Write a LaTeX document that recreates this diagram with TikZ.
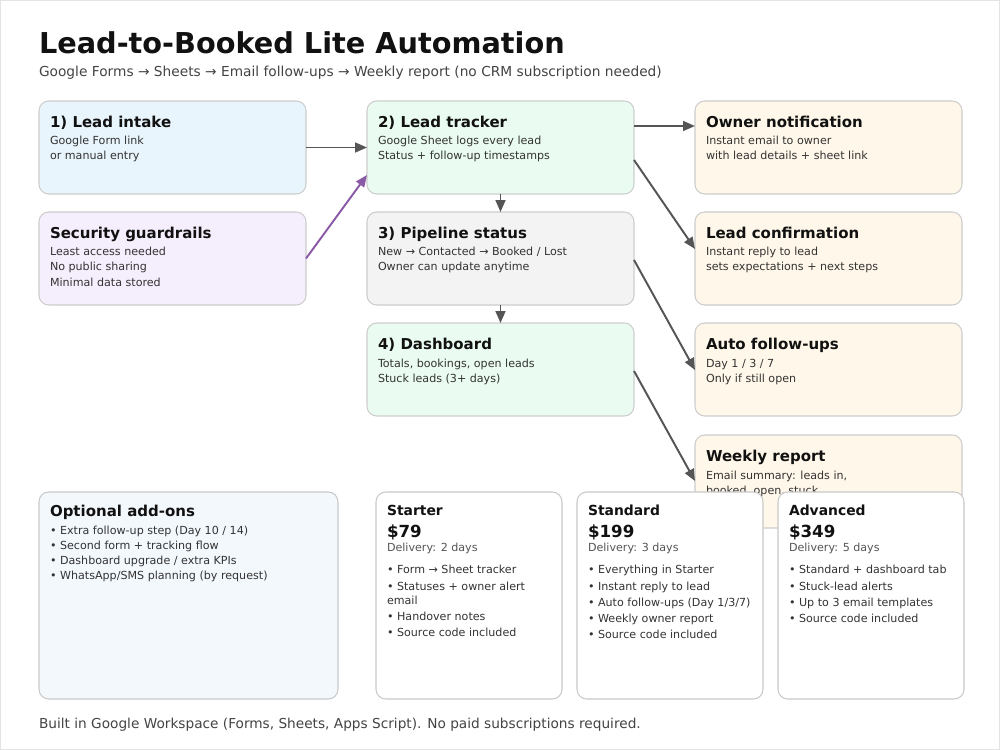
\documentclass[tikz,border=0pt]{standalone}
\usepackage{fontspec}
\setmainfont{DejaVu Sans}
\usetikzlibrary{calc,arrows.meta}
\definecolor{pagebord}{HTML}{E4E4E4}
\definecolor{bordc}{HTML}{CDCDCD}
\definecolor{cardbord}{HTML}{C9C9C9}
\definecolor{titlec}{HTML}{111111}
\definecolor{subc}{HTML}{444444}
\definecolor{bodyc}{HTML}{333333}
\definecolor{delc}{HTML}{555555}
\definecolor{arrc}{HTML}{555555}
\definecolor{purpc}{HTML}{8A5AA6}
\definecolor{blueF}{HTML}{E9F5FD}
\definecolor{purpF}{HTML}{F5EEFC}
\definecolor{greenF}{HTML}{EAFBF1}
\definecolor{grayF}{HTML}{F3F3F3}
\definecolor{creamF}{HTML}{FFF7E9}
\definecolor{addF}{HTML}{F3F8FD}
\begin{document}
\begin{tikzpicture}[x=0.72pt,y=-0.72pt,
  flowbox/.style={draw=bordc, line width=0.75pt, rounded corners=7pt, minimum width=192.24pt, minimum height=66.96pt, inner sep=0pt, outer sep=0pt, anchor=north west},
  cardbox/.style={draw=cardbord, line width=0.75pt, rounded corners=7pt, minimum width=133.92pt, minimum height=149.04pt, inner sep=0pt, outer sep=0pt, anchor=north west, fill=white},
  txt/.style={anchor=base west, inner sep=0pt, outer sep=0pt},
  btitle/.style={txt, font=\fontsize{10.8}{13}\selectfont\bfseries, text=titlec},
  bbody/.style={txt, font=\fontsize{8}{10}\selectfont, text=bodyc},
  ctitle/.style={txt, font=\fontsize{10}{12}\selectfont\bfseries, text=titlec},
  cprice/.style={txt, font=\fontsize{12}{14}\selectfont\bfseries, text=titlec},
  cdel/.style={txt, font=\fontsize{8}{10}\selectfont, text=delc},
  arr/.style={draw=arrc, line width=1.4pt, -{Triangle[length=8.5pt,width=7pt]}},
  parr/.style={draw=purpc, line width=1.4pt, -{Triangle[length=8.5pt,width=7pt]}}
]
\useasboundingbox (0,0) rectangle (1000,750);
\fill[white] (0,0) rectangle (1000,750);
\draw[pagebord, line width=0.75pt] (0.5,0.5) rectangle (999.5,749.5);

% title
\node[txt, font=\fontsize{20.7}{24}\selectfont\bfseries, text=titlec] (title) at (39,53.5) {Lead-to-Booked Lite Automation};
\node[txt, font=\fontsize{9.9}{12}\selectfont, text=subc] (subtitle) at (39,76.5) {Google Forms → Sheets → Email follow-ups → Weekly report (no CRM subscription needed)};

% left column
\node[flowbox, fill=blueF] (intake) at (39,101) {};
\node[btitle] (intakeT) at ($(intake.north west)+(11,26.5)$) {1) Lead intake};
\node[bbody] (intakeA) at ($(intake.north west)+(11,44)$) {Google Form link};
\node[bbody] (intakeB) at ($(intake.north west)+(11,59)$) {or manual entry};

\node[flowbox, fill=purpF] (sec) at (39,212) {};
\node[btitle] (secT) at ($(sec.north west)+(11,26.5)$) {Security guardrails};
\node[bbody] (secA) at ($(sec.north west)+(11,44)$) {Least access needed};
\node[bbody] (secB) at ($(sec.north west)+(11,59)$) {No public sharing};
\node[bbody] (secC) at ($(sec.north west)+(11,74)$) {Minimal data stored};

% middle column
\node[flowbox, fill=greenF] (tracker) at (367,101) {};
\node[btitle] (trackerT) at ($(tracker.north west)+(11,26.5)$) {2) Lead tracker};
\node[bbody] (trackerA) at ($(tracker.north west)+(11,44)$) {Google Sheet logs every lead};
\node[bbody] (trackerB) at ($(tracker.north west)+(11,59)$) {Status + follow-up timestamps};

\node[flowbox, fill=grayF] (pipe) at (367,212) {};
\node[btitle] (pipeT) at ($(pipe.north west)+(11,26.5)$) {3) Pipeline status};
\node[bbody] (pipeA) at ($(pipe.north west)+(11,44)$) {New → Contacted → Booked / Lost};
\node[bbody] (pipeB) at ($(pipe.north west)+(11,59)$) {Owner can update anytime};

\node[flowbox, fill=greenF] (dash) at (367,323) {};
\node[btitle] (dashT) at ($(dash.north west)+(11,26.5)$) {4) Dashboard};
\node[bbody] (dashA) at ($(dash.north west)+(11,44)$) {Totals, bookings, open leads};
\node[bbody] (dashB) at ($(dash.north west)+(11,59)$) {Stuck leads (3+ days)};

% right column
\node[flowbox, fill=creamF] (owner) at (695,101) {};
\node[btitle] (ownerT) at ($(owner.north west)+(11,26.5)$) {Owner notification};
\node[bbody] (ownerA) at ($(owner.north west)+(11,44)$) {Instant email to owner};
\node[bbody] (ownerB) at ($(owner.north west)+(11,59)$) {with lead details + sheet link};

\node[flowbox, fill=creamF] (conf) at (695,212) {};
\node[btitle] (confT) at ($(conf.north west)+(11,26.5)$) {Lead confirmation};
\node[bbody] (confA) at ($(conf.north west)+(11,44)$) {Instant reply to lead};
\node[bbody] (confB) at ($(conf.north west)+(11,59)$) {sets expectations + next steps};

\node[flowbox, fill=creamF] (auto) at (695,323) {};
\node[btitle] (autoT) at ($(auto.north west)+(11,26.5)$) {Auto follow-ups};
\node[bbody] (autoA) at ($(auto.north west)+(11,44)$) {Day 1 / 3 / 7};
\node[bbody] (autoB) at ($(auto.north west)+(11,59)$) {Only if still open};

\node[flowbox, fill=creamF] (week) at (695,435) {};
\node[btitle] (weekT) at ($(week.north west)+(11,26.5)$) {Weekly report};
\node[bbody] (weekA) at ($(week.north west)+(11,44)$) {Email summary: leads in,};
\node[bbody] (weekB) at ($(week.north west)+(11,59)$) {booked, open, stuck};

% connectors
\draw[arr] (intake.east) -- (tracker.west);
\draw[parr] (sec.east) -- ($(tracker.west)+(0,27.5)$);
\draw[arr] (tracker.south) -- (pipe.north);
\draw[arr] (pipe.south) -- (dash.north);
\draw[arr] ($(tracker.east)+(0,-21.5)$) -- ($(owner.west)+(0,-21.5)$);
\draw[arr] ($(tracker.east)+(0,12.5)$) -- ($(conf.west)+(0,-9.5)$);
\draw[arr] ($(pipe.east)+(0,1.5)$) -- ($(auto.west)+(0,0.5)$);
\draw[arr] ($(dash.east)+(0,1.5)$) -- ($(week.west)+(0,-0.5)$);

% add-ons
\node[cardbox, fill=addF, minimum width=215.28pt] (addons) at (39,492) {};
\node[btitle] (addT) at ($(addons.north west)+(11,24)$) {Optional add-ons};
\node[bbody] (addA) at ($(addons.north west)+(11,42)$) {• Extra follow-up step (Day 10 / 14)};
\node[bbody] (addB) at ($(addons.north west)+(11,57)$) {• Second form + tracking flow};
\node[bbody] (addC) at ($(addons.north west)+(11,72)$) {• Dashboard upgrade / extra KPIs};
\node[bbody] (addD) at ($(addons.north west)+(11,87)$) {• WhatsApp/SMS planning (by request)};

% pricing cards
\node[cardbox] (starter) at (376,492) {};
\node[ctitle] (starterT) at ($(starter.north west)+(11,23)$) {Starter};
\node[cprice] (starterP) at ($(starter.north west)+(11,45)$) {\$79};
\node[cdel] (starterD) at ($(starter.north west)+(11,59)$) {Delivery: 2 days};
\node[bbody] (starterA) at ($(starter.north west)+(11,81)$) {• Form → Sheet tracker};
\node[bbody] (starterB) at ($(starter.north west)+(11,98)$) {• Statuses + owner alert};
\node[bbody] (starterB2) at ($(starter.north west)+(11,112)$) {email};
\node[bbody] (starterC) at ($(starter.north west)+(11,128)$) {• Handover notes};
\node[bbody] (starterE) at ($(starter.north west)+(11,144)$) {• Source code included};

\node[cardbox] (standard) at (577,492) {};
\node[ctitle] (standardT) at ($(standard.north west)+(11,23)$) {Standard};
\node[cprice] (standardP) at ($(standard.north west)+(11,45)$) {\$199};
\node[cdel] (standardD) at ($(standard.north west)+(11,59)$) {Delivery: 3 days};
\node[bbody] (standardA) at ($(standard.north west)+(11,81)$) {• Everything in Starter};
\node[bbody] (standardB) at ($(standard.north west)+(11,98)$) {• Instant reply to lead};
\node[bbody] (standardC) at ($(standard.north west)+(11,114)$) {• Auto follow-ups (Day 1/3/7)};
\node[bbody] (standardE) at ($(standard.north west)+(11,130)$) {• Weekly owner report};
\node[bbody] (standardF) at ($(standard.north west)+(11,146)$) {• Source code included};

\node[cardbox] (adv) at (778,492) {};
\node[ctitle] (advT) at ($(adv.north west)+(11,23)$) {Advanced};
\node[cprice] (advP) at ($(adv.north west)+(11,45)$) {\$349};
\node[cdel] (advD) at ($(adv.north west)+(11,59)$) {Delivery: 5 days};
\node[bbody] (advA) at ($(adv.north west)+(11,81)$) {• Standard + dashboard tab};
\node[bbody] (advB) at ($(adv.north west)+(11,98)$) {• Stuck-lead alerts};
\node[bbody] (advC) at ($(adv.north west)+(11,114)$) {• Up to 3 email templates};
\node[bbody] (advE) at ($(adv.north west)+(11,130)$) {• Source code included};

% footer
\node[txt, font=\fontsize{9.85}{12}\selectfont, text=subc] (footer) at (39,728.5) {Built in Google Workspace (Forms, Sheets, Apps Script). No paid subscriptions required.};
\end{tikzpicture}
\end{document}
